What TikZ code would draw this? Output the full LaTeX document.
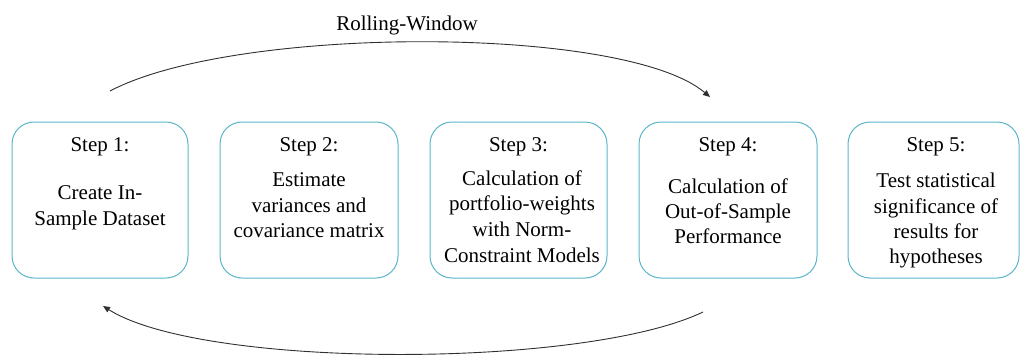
\documentclass[tikz,border=0pt]{standalone}
\usepackage{fontspec}
\setmainfont{Liberation Serif}
\newfontfamily\tnrfont{Liberation Serif}
\usetikzlibrary{arrows.meta}
\definecolor{boxc}{HTML}{5BB5C9}
\definecolor{arcc}{HTML}{303030}
\begin{document}
\begin{tikzpicture}[x=1pt,y=-1pt,
  stepbox/.style={draw=boxc, line width=1pt, rounded corners=22pt, minimum height=156pt, inner sep=0pt},
  txt/.style={font=\tnrfont\fontsize{21}{26}\selectfont, anchor=base, inner sep=0pt, text=black},
  arc/.style={draw=arcc, line width=0.9pt, -{Triangle[length=7pt,width=6pt]}}]
\useasboundingbox (0,0) rectangle (1023,356);
% boxes
\node[stepbox, minimum width=176pt] (s1) at (100,200) {};
\node[stepbox, minimum width=178pt] (s2) at (309,200) {};
\node[stepbox, minimum width=177pt] (s3) at (518.5,200) {};
\node[stepbox, minimum width=178pt] (s4) at (728,200) {};
\node[stepbox, minimum width=171pt] (s5) at (933.5,200) {};
% label
\node[txt] (lbl) at (407,30) {Rolling-Window};
% box 1
\node[txt] (h1) at (100,151) {Step 1:};
\node[txt] (b1a) at (100,199) {Create In-};
\node[txt] (b1b) at (100,225) {Sample Dataset};
% box 2
\node[txt] (h2) at (309,151) {Step 2:};
\node[txt] (b2a) at (309,186) {Estimate};
\node[txt] (b2b) at (309,212) {variances and};
\node[txt] (b2c) at (309,237) {covariance matrix};
% box 3
\node[txt] (h3) at (518.5,151) {Step 3:};
\node[txt] (b3a) at (522,185) {Calculation of};
\node[txt] (b3b) at (522,210) {portfolio-weights};
\node[txt] (b3c) at (522,236) {with Norm-};
\node[txt] (b3d) at (522,262) {Constraint Models};
% box 4
\node[txt] (h4) at (728,151) {Step 4:};
\node[txt] (b4a) at (728,193) {Calculation of};
\node[txt] (b4b) at (728,218) {Out-of-Sample};
\node[txt] (b4c) at (728,243) {Performance};
% box 5
\node[txt] (h5) at (936,151) {Step 5:};
\node[txt] (b5a) at (936,187) {Test statistical};
\node[txt] (b5b) at (936,213) {significance of};
\node[txt] (b5c) at (936,238) {results for};
\node[txt] (b5d) at (936,263) {hypotheses};
% arcs
\coordinate (t1) at (110,91);
\coordinate (t2) at (710,97);
\coordinate (u1) at (703,312);
\coordinate (u2) at (103,306);
\draw[arc] (t1) .. controls (235,25) and (625,25) .. (t2);
\draw[arc] (u1) .. controls (584,369) and (203,369) .. (u2);
\end{tikzpicture}
\end{document}
